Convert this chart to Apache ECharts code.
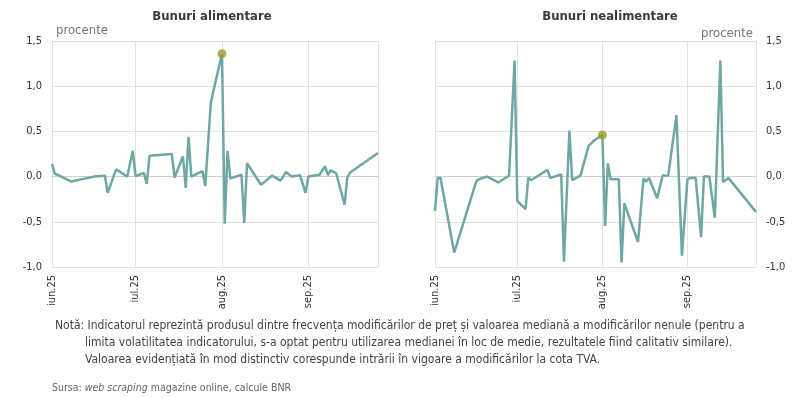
<!DOCTYPE html>
<html>
<head>
<meta charset="utf-8">
<script src="https://cdn.jsdelivr.net/npm/echarts@6/dist/echarts.min.js"></script>
<style>
  html, body { margin: 0; padding: 0; background: #fff; }
  #main { width: 800px; height: 398px; }
</style>
</head>
<body>
<div id="main"></div>
<script>
// date luate de pe grafic (procente)
const foodDates = ['2025-06-01', '2025-06-02', '2025-06-03', '2025-06-08', '2025-06-16', '2025-06-20', '2025-06-21', '2025-06-24', '2025-06-28', '2025-06-30',
  '2025-07-01', '2025-07-04', '2025-07-05', '2025-07-06', '2025-07-14', '2025-07-15', '2025-07-18', '2025-07-19', '2025-07-20', '2025-07-21',
  '2025-07-25', '2025-07-26', '2025-07-28', '2025-08-01', '2025-08-02', '2025-08-03', '2025-08-04', '2025-08-08', '2025-08-09', '2025-08-10',
  '2025-08-15', '2025-08-19', '2025-08-22', '2025-08-24', '2025-08-26', '2025-08-29', '2025-08-31', '2025-09-01', '2025-09-05', '2025-09-07',
  '2025-09-08', '2025-09-09', '2025-09-11', '2025-09-14', '2025-09-15', '2025-09-16', '2025-09-26'];
const foodValues = [0.14, 0.03, 0.02, -0.055, 0.0, 0.01, -0.18, 0.08, 0.0, 0.285,
  0.005, 0.04, -0.08, 0.23, 0.25, -0.01, 0.225, -0.125, 0.44, 0.0,
  0.06, -0.105, 0.82, 1.36, -0.52, 0.285, -0.02, 0.02, -0.515, 0.148,
  -0.09, 0.01, -0.045, 0.05, 0.0, 0.015, -0.18, 0.0, 0.02, 0.115,
  0.015, 0.068, 0.037, -0.31, -0.005, 0.045, 0.26];

const nonFoodDates = ['2025-06-01', '2025-06-02', '2025-06-03', '2025-06-08', '2025-06-16', '2025-06-17', '2025-06-20', '2025-06-24', '2025-06-28', '2025-06-30',
  '2025-07-01', '2025-07-04', '2025-07-05', '2025-07-06', '2025-07-12', '2025-07-13', '2025-07-17', '2025-07-18', '2025-07-20', '2025-07-21',
  '2025-07-24', '2025-07-27', '2025-07-29', '2025-08-01', '2025-08-02', '2025-08-03', '2025-08-04', '2025-08-07', '2025-08-08', '2025-08-09',
  '2025-08-14', '2025-08-16', '2025-08-17', '2025-08-18', '2025-08-21', '2025-08-23', '2025-08-25', '2025-08-28', '2025-08-30', '2025-09-01',
  '2025-09-02', '2025-09-04', '2025-09-06', '2025-09-07', '2025-09-09', '2025-09-11', '2025-09-13', '2025-09-14', '2025-09-16', '2025-09-26'];
const nonFoodValues = [-0.38, -0.015, -0.015, -0.84, -0.055, -0.03, 0.0, -0.065, 0.01, 1.285,
  -0.27, -0.36, -0.01, -0.04, 0.075, -0.015, 0.025, -0.94, 0.51, -0.04,
  0.01, 0.34, 0.40, 0.46, -0.545, 0.145, -0.03, -0.03, -0.95, -0.295,
  -0.725, -0.02, -0.055, -0.015, -0.24, 0.015, 0.008, 0.68, -0.875, -0.03,
  -0.015, -0.015, -0.67, 0.0, 0.0, -0.455, 1.285, -0.06, -0.017, -0.39];

// intrarea in vigoare a modificarilor TVA
const vatDate = '2025-08-01';
const monthNames = ['ian', 'feb', 'mar', 'apr', 'mai', 'iun', 'iul', 'aug', 'sep', 'oct', 'noi', 'dec'];
const yearSuffix = '.25';
const axisStart = '2025-06-01';
const axisEnd = '2025-09-26';
const yMin = -1.0;
const yMax = 1.5;
const yStep = 0.5;

const DAY = 24 * 3600 * 1000;
const FONT = "'Liberation Sans Narrow', 'DejaVu Sans Condensed', 'Roboto Condensed', sans-serif";
const lineColor = '#6ea7a5';
const dotColor = '#9b9b2b';
const gridColor = '#e2e2e2';
const textColor = '#333';

function pairs(dates, values) {
  return dates.map((d, i) => [d, values[i]]);
}
function vatPoint(dates, values) {
  const i = dates.indexOf(vatDate);
  return [[dates[i], values[i]]];
}

function xAxisFor(gridIndex) {
  return {
    type: 'time',
    gridIndex: gridIndex,
    min: axisStart,
    max: axisEnd,
    minInterval: 28 * DAY,
    maxInterval: 31 * DAY,
    axisLine: { show: true, lineStyle: { color: '#cfcfcf', width: 1 } },
    axisTick: { show: false },
    splitLine: { show: true, lineStyle: { color: gridColor, width: 1 } },
    axisLabel: {
      rotate: 90,
      margin: 8,
      color: textColor,
      fontSize: 11,
      fontFamily: FONT,
      showMinLabel: true,
      hideOverlap: false,
      formatter: function (val) {
        const d = new Date(val);
        return monthNames[d.getMonth()] + yearSuffix;
      },
    },
  };
}

function yAxisFor(gridIndex, position) {
  return {
    type: 'value',
    gridIndex: gridIndex,
    position: position,
    min: yMin,
    max: yMax,
    interval: yStep,
    axisLine: { show: false },
    axisTick: { show: false },
    splitLine: { show: true, lineStyle: { color: gridColor, width: 1 } },
    axisLabel: {
      margin: 10,
      color: textColor,
      fontSize: 11,
      fontFamily: FONT,
      formatter: v => v.toFixed(1).replace('.', ','),
    },
  };
}

const myChart = echarts.init(document.getElementById('main'));
myChart.setOption({
  animation: false,
  grid: [
    { left: 52, right: 422, top: 41, bottom: 131 },
    { left: 435, right: 44, top: 41, bottom: 131 },
  ],
  xAxis: [xAxisFor(0), xAxisFor(1)],
  yAxis: [yAxisFor(0, 'left'), yAxisFor(1, 'right')],
  series: [
    {
      type: 'line', xAxisIndex: 0, yAxisIndex: 0,
      data: pairs(foodDates, foodValues),
      showSymbol: false,
      lineStyle: { color: lineColor, width: 2.5 },
      itemStyle: { color: lineColor },
    },
    {
      type: 'scatter', xAxisIndex: 0, yAxisIndex: 0,
      data: vatPoint(foodDates, foodValues),
      symbolSize: 9, z: 5,
      itemStyle: { color: dotColor },
    },
    {
      type: 'line', xAxisIndex: 1, yAxisIndex: 1,
      data: pairs(nonFoodDates, nonFoodValues),
      showSymbol: false,
      lineStyle: { color: lineColor, width: 2.5 },
      itemStyle: { color: lineColor },
    },
    {
      type: 'scatter', xAxisIndex: 1, yAxisIndex: 1,
      data: vatPoint(nonFoodDates, nonFoodValues),
      symbolSize: 9, z: 5,
      itemStyle: { color: dotColor },
    },
  ],
  graphic: [
    // titluri
    { type: 'text', x: 212, y: 17, style: { text: 'Bunuri alimentare', font: 'bold 13px ' + FONT, fill: '#3a3a3a', align: 'center', verticalAlign: 'middle' } },
    { type: 'text', x: 610, y: 17, style: { text: 'Bunuri nealimentare', font: 'bold 13px ' + FONT, fill: '#3a3a3a', align: 'center', verticalAlign: 'middle' } },
    { type: 'text', x: 56, y: 31, style: { text: 'procente', font: '13px ' + FONT, fill: '#777', align: 'left', verticalAlign: 'middle' } },
    { type: 'text', x: 753, y: 34, style: { text: 'procente', font: '13px ' + FONT, fill: '#777', align: 'right', verticalAlign: 'middle' } },
    // nota si sursa
    { type: 'text', x: 55, y: 326, style: { text: 'Notă: Indicatorul reprezintă produsul dintre frecvența modificărilor de preț și valoarea mediană a modificărilor nenule (pentru a', font: '12px ' + FONT, fill: '#444', verticalAlign: 'middle' } },
    { type: 'text', x: 85, y: 343, style: { text: 'limita volatilitatea indicatorului, s-a optat pentru utilizarea medianei în loc de medie, rezultatele fiind calitativ similare).', font: '12px ' + FONT, fill: '#444', verticalAlign: 'middle' } },
    { type: 'text', x: 85, y: 360, style: { text: 'Valoarea evidențiată în mod distinctiv corespunde intrării în vigoare a modificărilor la cota TVA.', font: '12px ' + FONT, fill: '#444', verticalAlign: 'middle' } },
    {
      type: 'text', x: 52, y: 388,
      style: {
        text: '{a|Sursa: }{i|web scraping}{a| magazine online, calcule BNR}',
        verticalAlign: 'middle',
        rich: {
          a: { fontSize: 10.5, fontFamily: FONT, fill: '#666' },
          i: { fontSize: 10.5, fontFamily: FONT, fill: '#666', fontStyle: 'italic' },
        },
      },
    },
  ],
});
</script>
</body>
</html>
